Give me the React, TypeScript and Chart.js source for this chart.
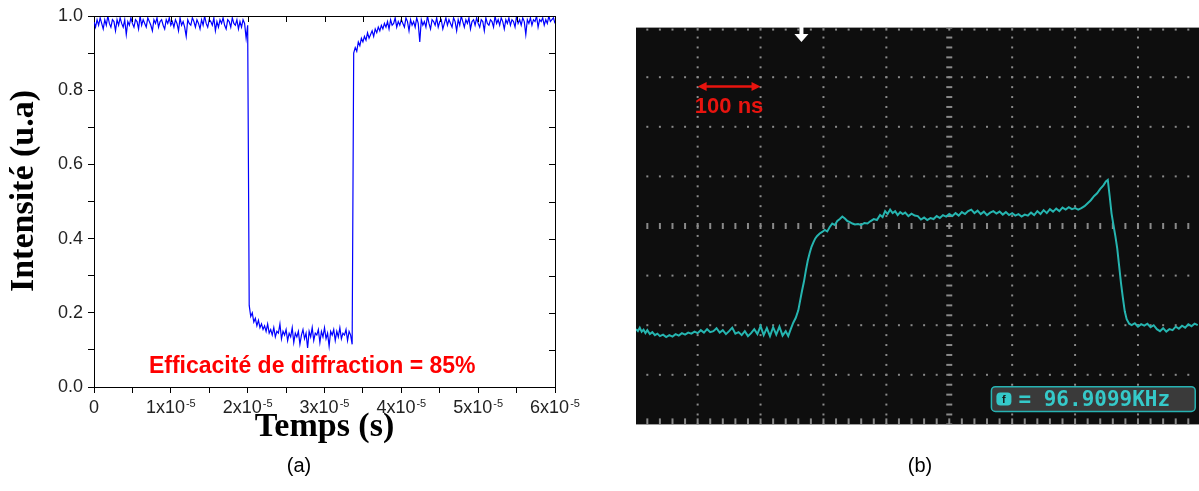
import React, { useEffect, useRef } from "react";
import { Chart, registerables } from "chart.js";

Chart.register(...registerables);

// ---------- Panel (a): diffraction efficiency ----------
const TIME_STEP_S = 2e-7;
const intensityValues: number[] = [
  // 0 .. 2.0e-5 s (high level)
  0.985, 0.97, 0.99, 0.975, 0.995, 0.98, 0.965, 0.99, 0.975, 1.0,
  0.98, 0.97, 0.99, 0.985, 0.96, 0.99, 0.975, 0.995, 0.98, 0.97,
  0.99, 0.95, 0.985, 0.975, 0.995, 0.98, 0.97, 0.99, 0.985, 0.965,
  1.0, 0.975, 0.99, 0.98, 0.97, 0.995, 0.985, 0.975, 0.96, 0.99,
  0.98, 0.995, 0.97, 0.985, 0.99, 0.975, 0.965, 0.99, 0.98, 0.995,
  0.975, 0.985, 0.97, 0.99, 0.98, 0.96, 0.995, 0.975, 0.985, 0.97,
  0.945, 0.99, 0.98, 0.975, 0.995, 0.985, 0.97, 0.99, 0.98, 0.965,
  0.99, 0.975, 1.0, 0.98, 0.97, 0.99, 0.985, 0.975, 0.995, 0.96,
  0.985, 0.97, 0.99, 0.98, 0.995, 0.975, 0.965, 0.99, 0.985, 0.97,
  0.995, 0.98, 0.975, 0.99, 0.965, 0.985, 0.97, 0.99, 0.98, 0.94,
  0.975,
  // 2.02e-5 .. 3.36e-5 s (diffracted, low level)
  0.22, 0.19, 0.2, 0.175, 0.185, 0.165, 0.18, 0.16, 0.17, 0.155,
  0.165, 0.15, 0.17, 0.145, 0.155, 0.14, 0.16, 0.135, 0.15, 0.145,
  0.17, 0.13, 0.15, 0.14, 0.155, 0.125, 0.145, 0.135, 0.16, 0.12,
  0.145, 0.135, 0.15, 0.115, 0.14, 0.155, 0.13, 0.145, 0.105, 0.15,
  0.135, 0.16, 0.125, 0.145, 0.14, 0.155, 0.12, 0.15, 0.135, 0.16,
  0.13, 0.145, 0.11, 0.15, 0.14, 0.155, 0.125, 0.15, 0.135, 0.16,
  0.13, 0.145, 0.14, 0.155, 0.125, 0.15, 0.14, 0.115,
  // 3.38e-5 .. 6.0e-5 s (recovery)
  0.9, 0.915, 0.905, 0.93, 0.92, 0.94, 0.93, 0.945, 0.935, 0.955, 0.94, 0.95,
  0.96, 0.945, 0.965, 0.955, 0.97, 0.96, 0.975, 0.965, 0.98, 0.97,
  0.985, 0.965, 0.99, 0.975, 0.98, 0.995, 0.97, 0.985, 0.975, 0.99,
  0.98, 0.97, 0.995, 0.985, 0.96, 0.99, 0.975, 0.985, 0.97, 0.995,
  0.98, 0.93, 0.99, 0.975, 0.985, 0.97, 1.0, 0.98, 0.965, 0.99,
  0.985, 0.975, 0.995, 0.97, 0.985, 0.99, 0.965, 0.98, 0.995, 0.975,
  0.99, 0.98, 0.97, 0.995, 0.985, 0.96, 0.99, 0.975, 1.0, 0.985,
  0.97, 0.99, 0.98, 0.995, 0.965, 0.985, 0.99, 0.975, 0.995, 0.98,
  0.97, 0.99, 0.985, 0.96, 0.995, 0.98, 0.975, 0.99, 0.985, 0.97,
  1.0, 0.98, 0.99, 0.975, 0.995, 0.985, 0.965, 0.99, 0.98, 0.995,
  0.975, 0.99, 0.985, 0.97, 1.0, 0.98, 0.99, 0.975, 0.995, 0.985,
  0.95, 0.99, 0.98, 0.995, 0.975, 0.99, 0.985, 1.0, 0.97, 0.99,
  0.985, 0.995, 0.975, 0.99, 0.98, 1.0, 0.985, 0.99, 0.995, 0.98,
];

const X_TICK_POSITIONS = [0, 0.5e-5, 1e-5, 1.5e-5, 2e-5, 2.5e-5, 3e-5, 3.5e-5, 4e-5, 4.5e-5, 5e-5, 5.5e-5, 6e-5];
const X_LABEL_VALUES = [0, 1e-5, 2e-5, 3e-5, 4e-5, 5e-5, 6e-5];
const X_LABEL_MANTISSA = ["0", "1x10", "2x10", "3x10", "4x10", "5x10", "6x10"];
const X_LABEL_EXPONENT = ["", "-5", "-5", "-5", "-5", "-5", "-5"];
const Y_TICK_POSITIONS = [0, 0.1, 0.2, 0.3, 0.4, 0.5, 0.6, 0.7, 0.8, 0.9, 1.0];
const Y_TICK_LABELS = ["0.0", "", "0.2", "", "0.4", "", "0.6", "", "0.8", "", "1.0"];
const X_TITLE = "Temps (s)";
const Y_TITLE = "Intensité (u.a)";
const EFFICIENCY_TEXT = "Efficacité de diffraction = 85%";

// ---------- Panel (b): oscilloscope trace ----------
const scopeTimeNs = [
  2, 5, 8, 11, 14, 17, 20, 24, 28, 32, 36, 40, 45, 50, 55, 60, 65, 70, 75, 80,
  85, 90, 95, 100, 105, 110, 115, 120, 125, 130, 135, 140, 145, 150, 155, 160, 165, 170, 175, 180,
  185, 190, 195, 200, 205, 210, 215, 220, 225, 230, 235, 240, 244, 248, 252, 256, 260, 263, 266, 269,
  272, 275, 278, 281, 284, 287, 290, 294, 298, 302, 306, 310, 314, 318, 322, 326, 330, 334, 338, 342,
  346, 350, 355, 360, 365, 370, 375, 380, 385, 390, 394, 398, 402, 406, 410, 414, 418, 422, 426, 430,
  435, 440, 445, 450, 455, 460, 465, 470, 475, 480, 485, 490, 495, 500, 505, 510, 515, 520, 525, 530,
  535, 540, 545, 550, 555, 560, 565, 570, 575, 580, 585, 590, 595, 600, 605, 610, 615, 620, 625, 630,
  635, 640, 645, 650, 655, 660, 665, 670, 675, 680, 685, 690, 695, 700, 705, 710, 715, 720, 725, 730,
  735, 740, 745, 749, 752, 755, 758, 761, 764, 767, 770, 773, 776, 779, 782, 786, 790, 795, 800, 805,
  810, 815, 820, 825, 830, 835, 840, 845, 850, 855, 860, 865, 870, 875, 880, 885, 890, 895,
];
const scopeSignalDiv = [
  -2.08, -2.12, -2.05, -2.13, -2.09, -2.16, -2.1, -2.18, -2.14, -2.2, -2.17, -2.22, -2.19, -2.24, -2.2, -2.23, -2.18, -2.21, -2.16, -2.19,
  -2.15, -2.17, -2.13, -2.16, -2.1, -2.15, -2.08, -2.14, -2.12, -2.06, -2.15, -2.1, -2.18, -2.12, -2.05, -2.17, -2.14, -2.2, -2.12, -2.22,
  -2.16, -2.08, -2.18, -2.02, -2.2, -2.06, -2.22, -2.04, -2.19, -2.03, -2.21, -2.12, -2.22, -2.08, -1.95, -1.85, -1.7, -1.5, -1.3, -1.12,
  -0.9, -0.7, -0.55, -0.42, -0.33, -0.25, -0.2, -0.15, -0.12, -0.08, -0.11, -0.02, 0.05, 0.02, 0.1, 0.14, 0.19, 0.15, 0.1, 0.08,
  0.05, 0.03, 0.04, 0.02, 0.06, 0.05, 0.1, 0.14, 0.12, 0.22, 0.18, 0.3, 0.24, 0.33, 0.26, 0.3, 0.22, 0.28, 0.24, 0.27,
  0.2, 0.25, 0.21, 0.2, 0.13, 0.17, 0.12, 0.16, 0.14, 0.2, 0.16, 0.22, 0.19, 0.24, 0.2, 0.26, 0.21, 0.28, 0.24, 0.3,
  0.33, 0.26, 0.31, 0.24, 0.29, 0.22, 0.27, 0.3, 0.25, 0.29, 0.23, 0.28, 0.22, 0.26, 0.21, 0.24, 0.19, 0.23, 0.21, 0.27,
  0.22, 0.3, 0.24, 0.32, 0.26, 0.34, 0.29, 0.35, 0.3, 0.37, 0.33, 0.38, 0.34, 0.36, 0.33, 0.36, 0.4, 0.46, 0.52, 0.6,
  0.66, 0.75, 0.82, 0.9, 0.93, 0.6, 0.25, 0.02, -0.2, -0.45, -0.8, -1.15, -1.45, -1.72, -1.88, -1.97, -2.0, -1.96, -2.03, -1.98,
  -2.01, -1.97, -2.04, -2.0, -2.08, -2.12, -2.06, -2.13, -2.08, -2.1, -2.03, -2.07, -2.01, -2.05, -1.98, -2.02, -1.97, -2.0,
];
const SCOPE_ROWS_DIV = [-4, -3, -2, -1, 0, 1, 2, 3, 4];
const SCOPE_COLS_NS = [0, 100, 200, 300, 400, 500, 600, 700, 800, 900];
const SCOPE_SCALE_LABEL = "100 ns";
const SCOPE_FREQ_TEXT = "= 96.9099KHz";

const SANS = '"Liberation Sans", Arial, sans-serif';
const SERIF = '"Liberation Serif", "Times New Roman", serif';

const leftDecorPlugin = {
  id: "leftDecor",
  afterDraw(chart: any) {
    const { ctx, chartArea: a, scales } = chart;
    const x = scales.x;
    const y = scales.y;
    ctx.save();
    ctx.strokeStyle = "#000";
    ctx.lineWidth = 1;
    ctx.beginPath();
    ctx.moveTo(a.left, Math.round(a.top) + 0.5);
    ctx.lineTo(Math.round(a.right) + 0.5, Math.round(a.top) + 0.5);
    ctx.lineTo(Math.round(a.right) + 0.5, a.bottom);
    for (const v of Y_TICK_POSITIONS) {
      const py = Math.round(y.getPixelForValue(v)) + 0.5;
      ctx.moveTo(a.right - 6, py);
      ctx.lineTo(a.right, py);
    }
    for (const v of X_TICK_POSITIONS) {
      const px = Math.round(x.getPixelForValue(v)) + 0.5;
      ctx.moveTo(px, a.top);
      ctx.lineTo(px, a.top + 6);
    }
    ctx.stroke();

    // x tick labels with superscript exponent
    ctx.fillStyle = "#222";
    ctx.textAlign = "left";
    ctx.textBaseline = "alphabetic";
    X_LABEL_VALUES.forEach((v, i) => {
      const px = x.getPixelForValue(v);
      const base = X_LABEL_MANTISSA[i];
      const exp = X_LABEL_EXPONENT[i];
      ctx.font = `18px ${SANS}`;
      const wb = ctx.measureText(base).width;
      ctx.font = `11px ${SANS}`;
      const we = exp ? ctx.measureText(exp).width + 1 : 0;
      const start = px - (wb + we) / 2;
      ctx.font = `18px ${SANS}`;
      ctx.fillText(base, start, a.bottom + 26);
      if (exp) {
        ctx.font = `11px ${SANS}`;
        ctx.fillText(exp, start + wb + 1, a.bottom + 20);
      }
    });

    // axis titles
    ctx.fillStyle = "#000";
    ctx.font = `bold 34px ${SERIF}`;
    ctx.textAlign = "center";
    ctx.fillText(X_TITLE, (a.left + a.right) / 2, a.bottom + 49);
    ctx.save();
    ctx.translate(33, 191);
    ctx.rotate(-Math.PI / 2);
    ctx.fillText(Y_TITLE, 0, 0);
    ctx.restore();

    // annotation
    ctx.fillStyle = "#ff0000";
    ctx.font = `bold 23px ${SANS}`;
    ctx.textBaseline = "middle";
    ctx.fillText(EFFICIENCY_TEXT, x.getPixelForValue(2.84e-5), y.getPixelForValue(0.054));

    // panel label
    ctx.fillStyle = "#000";
    ctx.font = `20px ${SANS}`;
    ctx.fillText("(a)", 299, 466);
    ctx.restore();
  },
};

const scopeGridPlugin = {
  id: "scopeGrid",
  beforeDatasetsDraw(chart: any) {
    const { ctx, chartArea: a, scales } = chart;
    const x = scales.x;
    const y = scales.y;
    ctx.save();
    ctx.fillStyle = "#0e0e0e";
    ctx.fillRect(a.left, a.top, a.right - a.left, a.bottom - a.top);
    ctx.beginPath();
    ctx.rect(a.left, a.top, a.right - a.left, a.bottom - a.top);
    ctx.clip();
    ctx.fillStyle = "#8a8a8a";
    for (const dv of SCOPE_ROWS_DIV) {
      const py = Math.max(a.top + 2, Math.min(a.bottom - 3, y.getPixelForValue(dv)));
      for (let t = 0; t <= 1000; t += 20) {
        const px = x.getPixelForValue(t);
        if (dv === 0 || dv === -4) ctx.fillRect(px - 1, py - 3, 2, 6);
        else ctx.fillRect(px - 1, py - 1, 2, 2);
      }
    }
    for (const tc of SCOPE_COLS_NS) {
      const px = x.getPixelForValue(tc);
      for (let k = -20; k <= 20; k++) {
        const py = y.getPixelForValue(k * 0.2);
        if (tc === 500) ctx.fillRect(px - 3, py - 1, 6, 2);
        else ctx.fillRect(px - 1, py - 1, 2, 2);
      }
    }
    ctx.restore();
  },
  afterDatasetsDraw(chart: any) {
    const { ctx, scales } = chart;
    const x = scales.x;
    const y = scales.y;
    ctx.save();
    // 100 ns double arrow
    const x1 = x.getPixelForValue(100);
    const x2 = x.getPixelForValue(200);
    const ay = y.getPixelForValue(2.81);
    ctx.strokeStyle = "#e8140f";
    ctx.fillStyle = "#e8140f";
    ctx.lineWidth = 2.5;
    ctx.beginPath();
    ctx.moveTo(x1 + 6, ay);
    ctx.lineTo(x2 - 6, ay);
    ctx.stroke();
    ctx.beginPath();
    ctx.moveTo(x1, ay);
    ctx.lineTo(x1 + 9, ay - 4.5);
    ctx.lineTo(x1 + 9, ay + 4.5);
    ctx.closePath();
    ctx.moveTo(x2, ay);
    ctx.lineTo(x2 - 9, ay - 4.5);
    ctx.lineTo(x2 - 9, ay + 4.5);
    ctx.closePath();
    ctx.fill();
    ctx.font = `bold 22px ${SANS}`;
    ctx.textAlign = "center";
    ctx.textBaseline = "middle";
    ctx.fillText(SCOPE_SCALE_LABEL, (x1 + x2) / 2, y.getPixelForValue(2.4));

    // trigger marker
    const tx = x.getPixelForValue(265);
    ctx.fillStyle = "#ffffff";
    ctx.fillRect(tx - 2, 25, 4, 10);
    ctx.beginPath();
    ctx.moveTo(tx - 7, 34);
    ctx.lineTo(tx + 7, 34);
    ctx.lineTo(tx, 42);
    ctx.closePath();
    ctx.fill();

    // frequency readout box
    const bx0 = x.getPixelForValue(567);
    const bx1 = x.getPixelForValue(891);
    const by0 = y.getPixelForValue(-3.24);
    const by1 = y.getPixelForValue(-3.74);
    ctx.fillStyle = "#3a3a3a";
    ctx.strokeStyle = "#27b3b3";
    ctx.lineWidth = 1.5;
    ctx.beginPath();
    ctx.roundRect(bx0, by0, bx1 - bx0, by1 - by0, 4);
    ctx.fill();
    ctx.stroke();
    const cy = (by0 + by1) / 2;
    ctx.fillStyle = "#35c9c9";
    ctx.beginPath();
    ctx.roundRect(bx0 + 5, cy - 6.5, 15, 13, 4);
    ctx.fill();
    ctx.fillStyle = "#1a1a1a";
    ctx.font = `bold 11px ${SANS}`;
    ctx.textAlign = "center";
    ctx.fillText("f", bx0 + 12.5, cy + 0.5);
    ctx.fillStyle = "#35c9c9";
    ctx.font = `bold 21px "DejaVu Sans Mono", monospace`;
    ctx.textAlign = "left";
    ctx.fillText(SCOPE_FREQ_TEXT, bx0 + 27, cy + 1);

    // panel label
    ctx.fillStyle = "#000";
    ctx.font = `20px ${SANS}`;
    ctx.textAlign = "center";
    ctx.fillText("(b)", 320, 466);
    ctx.restore();
  },
};

function EfficiencyChart() {
  const ref = useRef<HTMLCanvasElement | null>(null);
  useEffect(() => {
    if (!ref.current) return;
    const points = intensityValues.map((v, i) => ({ x: i * TIME_STEP_S, y: v }));
    const chart = new Chart(ref.current, {
      type: "line",
      data: {
        datasets: [
          {
            data: points,
            borderColor: "#0000ff",
            borderWidth: 1.2,
            pointRadius: 0,
            tension: 0,
            fill: false,
          },
        ],
      },
      options: {
        animation: false,
        responsive: false,
        maintainAspectRatio: false,
        events: [],
        layout: { padding: { top: 16, right: 45, left: 0, bottom: 0 } },
        plugins: { legend: { display: false }, tooltip: { enabled: false } },
        scales: {
          x: {
            type: "linear",
            min: 0,
            max: 6e-5,
            afterFit: (s: any) => {
              s.height = 104;
            },
            afterBuildTicks: (s: any) => {
              s.ticks = X_TICK_POSITIONS.map((v) => ({ value: v }));
            },
            ticks: { display: false },
            grid: { drawOnChartArea: false, drawTicks: true, tickLength: 6, color: "#000", lineWidth: 1 },
            border: { display: true, color: "#000", width: 1 },
          },
          y: {
            type: "linear",
            min: 0,
            max: 1,
            afterFit: (s: any) => {
              s.width = 94;
            },
            afterBuildTicks: (s: any) => {
              s.ticks = Y_TICK_POSITIONS.map((v) => ({ value: v }));
            },
            ticks: {
              padding: 5,
              color: "#222",
              font: { family: SANS, size: 18 },
              callback: (_v: any, i: number) => Y_TICK_LABELS[i],
            },
            grid: { drawOnChartArea: false, drawTicks: true, tickLength: 6, color: "#000", lineWidth: 1 },
            border: { display: true, color: "#000", width: 1 },
          },
        },
      },
      plugins: [leftDecorPlugin],
    } as any);
    return () => chart.destroy();
  }, []);
  return (
    <canvas
      ref={ref}
      width={600}
      height={491}
      style={{ position: "absolute", left: 0, top: 0, width: 600, height: 491 }}
    />
  );
}

function ScopeChart() {
  const ref = useRef<HTMLCanvasElement | null>(null);
  useEffect(() => {
    if (!ref.current) return;
    const points = scopeTimeNs.map((t, i) => ({ x: t, y: scopeSignalDiv[i] }));
    const chart = new Chart(ref.current, {
      type: "line",
      data: {
        datasets: [
          {
            data: points,
            borderColor: "#26b5b0",
            borderWidth: 2,
            pointRadius: 0,
            tension: 0,
            fill: false,
          },
        ],
      },
      options: {
        animation: false,
        responsive: false,
        maintainAspectRatio: false,
        events: [],
        layout: { padding: { top: 27.6, right: 0, left: 36, bottom: 66.6 } },
        plugins: { legend: { display: false }, tooltip: { enabled: false } },
        scales: {
          x: { type: "linear", min: 2, max: 897, display: false },
          y: { type: "linear", min: -4, max: 4, display: false },
        },
      },
      plugins: [scopeGridPlugin],
    } as any);
    return () => chart.destroy();
  }, []);
  return (
    <canvas
      ref={ref}
      width={599}
      height={491}
      style={{ position: "absolute", left: 600, top: 0, width: 599, height: 491 }}
    />
  );
}

export default function App() {
  return (
    <div
      style={{
        position: "absolute",
        left: 0,
        top: 0,
        width: 1199,
        height: 491,
        background: "#ffffff",
        overflow: "hidden",
      }}
    >
      <EfficiencyChart />
      <ScopeChart />
    </div>
  );
}
